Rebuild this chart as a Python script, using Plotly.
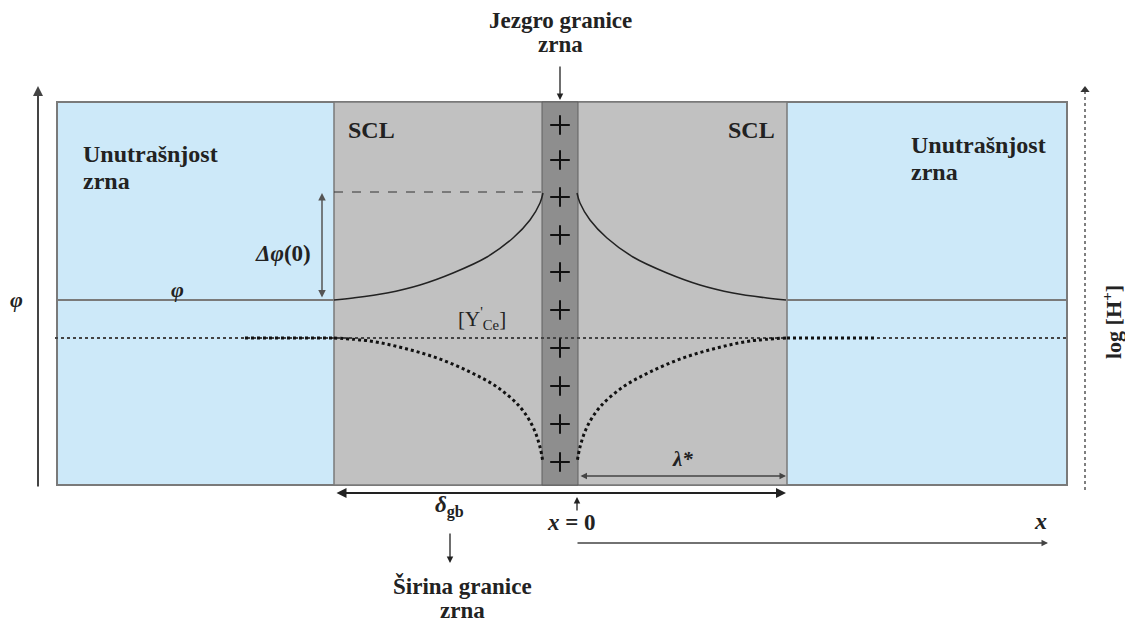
import plotly.graph_objects as go

# ---- schematic geometry (picture units: x right, y down) ----
outer_box = [57, 1067, 102, 485]          # left, right, top, bottom
scl_bounds = [334, 787]                    # space-charge layer edges
core_bounds = [542, 578]                   # grain-boundary core
core_center = 560
phi_level = 300                            # bulk potential level
phi_peak_level = 192                       # potential at x=0
conc_level = 338                           # bulk [Y'Ce] level

# potential curve (left half)
phi_curve_x = [334, 353, 387, 420, 453, 487, 513, 530, 540, 543]
phi_curve_y = [300, 298, 293, 285, 273, 257, 238, 220, 203, 193]
# concentration curve (left half)
conc_curve_x = [334, 370, 403, 437, 470, 497, 520, 533, 540, 543]
conc_curve_y = [338, 341, 348, 358, 372, 387, 407, 427, 447, 463]

plus_y = [125, 160, 197, 235, 272, 310, 348, 386, 424, 462]

COL_BLUE = "#cde9f9"
COL_SCL = "#c1c1c1"
COL_CORE = "#8e8e8e"
COL_EDGE = "#7a7a7a"
FONT = "Liberation Serif"

fig = go.Figure()

shapes = []
shapes.append(dict(type="rect", x0=outer_box[0], x1=outer_box[1], y0=outer_box[2], y1=outer_box[3],
                   fillcolor=COL_BLUE, line=dict(color=COL_EDGE, width=2), layer="below"))
shapes.append(dict(type="rect", x0=scl_bounds[0], x1=scl_bounds[1], y0=outer_box[2], y1=outer_box[3],
                   fillcolor=COL_SCL, line=dict(color=COL_EDGE, width=1.5), layer="below"))
shapes.append(dict(type="rect", x0=core_bounds[0], x1=core_bounds[1], y0=outer_box[2], y1=outer_box[3],
                   fillcolor=COL_CORE, line=dict(color="#606060", width=1), layer="below"))
fig.update_layout(shapes=shapes)

def line(xs, ys, color, width, dash="solid", shape="linear"):
    fig.add_trace(go.Scatter(x=xs, y=ys, mode="lines", line=dict(color=color, width=width, dash=dash, shape=shape),
                             hoverinfo="skip"))

line([outer_box[0], scl_bounds[0]], [phi_level, phi_level], COL_EDGE, 2)
line([scl_bounds[1], outer_box[1]], [phi_level, phi_level], COL_EDGE, 2)
line([scl_bounds[0], core_bounds[0]], [phi_peak_level, phi_peak_level], "#333333", 1, "dash")
line([outer_box[0] - 2, outer_box[1]], [conc_level, conc_level], "#444444", 2, "dot")

right_phi_x = [2 * core_center - v for v in phi_curve_x]
line(phi_curve_x, phi_curve_y, "#222222", 1.5, shape="spline")
line(right_phi_x, phi_curve_y, "#222222", 1.5, shape="spline")
right_conc_x = [2 * core_center - v for v in conc_curve_x]
line(conc_curve_x, conc_curve_y, "#111111", 3, "dot", "spline")
line(right_conc_x, conc_curve_y, "#111111", 3, "dot", "spline")
line([245, 334], [conc_level, conc_level], "#111111", 3, "dot")
line([787, 876], [conc_level, conc_level], "#111111", 3, "dot")

fig.add_trace(go.Scatter(x=[core_center] * len(plus_y), y=plus_y, mode="markers",
                         marker=dict(symbol="cross-thin", size=14, line=dict(color="#111111", width=2)),
                         hoverinfo="skip"))

line([1085, 1085], [490, 92], "#555555", 1.5, "dot")
fig.add_trace(go.Scatter(x=[1085], y=[90], mode="markers", marker=dict(symbol="triangle-up", size=8, color="#333333"),
                         hoverinfo="skip"))

ann = []
def arrow(x, y, ax, ay, color="#333333", width=1.5, head=2, side="end", size=1):
    ann.append(dict(x=x, y=y, ax=ax, ay=ay, xref="x", yref="y", axref="x", ayref="y", text="",
                    showarrow=True, arrowhead=head, arrowwidth=width, arrowcolor=color, arrowside=side,
                    arrowsize=size, startarrowhead=head, startarrowsize=size))

def label(x, y, text, size=18, bold=True, xanchor="center", yanchor="middle", angle=0):
    t = "<b>" + text + "</b>" if bold else text
    ann.append(dict(x=x, y=y, xref="x", yref="y", text=t, showarrow=False, xanchor=xanchor, yanchor=yanchor,
                    textangle=angle, font=dict(family=FONT, size=size, color="#222222")))

arrow(38, 86, 38, 488, color="#444444", width=2)
arrow(core_center, 100, core_center, 65, color="#222222", width=1.3)
arrow(322, 193, 322, 299, color="#555555", width=1.5, side="end+start")
arrow(786, 476, 579, 476, color="#444444", width=1.3, side="end+start")
arrow(786, 493, 335, 493, color="#222222", width=2, side="end+start")
arrow(577, 497, 577, 512, color="#222222", width=1.3)
arrow(1048, 543, 576, 543, color="#444444", width=1.3)
arrow(450, 563, 450, 532, color="#222222", width=1.3)

label(core_center, 20, "Jezgro granice", size=23)
label(core_center, 44, "zrna", size=23)
label(346, 130, "SCL", size=24, xanchor="left")
label(777, 130, "SCL", size=24, xanchor="right")
label(81, 154, "Unutrašnjost", size=24, xanchor="left")
label(81, 181, "zrna", size=24, xanchor="left")
label(909, 145, "Unutrašnjost", size=24, xanchor="left")
label(909, 172, "zrna", size=24, xanchor="left")
label(283, 253, "<i>Δφ</i>(0)", size=23)
label(177, 289, "<i>φ</i>", size=22)
label(16, 299, "<i>φ</i>", size=22)
label(482, 318, "[Y<sup>'</sup><sub>Ce</sub>]", size=21, bold=False)
label(682, 459, "<i>λ*</i>", size=21)
label(449, 506, "<i>δ</i><sub>gb</sub>", size=23)
label(571, 522, "<i>x</i> = 0", size=23)
label(1040, 521, "<i>x</i>", size=24)
label(462, 586, "Širina granice", size=23)
label(462, 610, "zrna", size=23)
label(1112, 322, "log [H<sup>+</sup>]", size=22, angle=-90)

fig.update_layout(
    annotations=ann,
    width=1125, height=624,
    margin=dict(l=0, r=0, t=0, b=0),
    paper_bgcolor="white", plot_bgcolor="white",
    font=dict(family=FONT),
    showlegend=False,
    xaxis=dict(range=[0, 1125], visible=False, fixedrange=True),
    yaxis=dict(range=[624, 0], visible=False, fixedrange=True),
)

fig.write_html("out.html")
